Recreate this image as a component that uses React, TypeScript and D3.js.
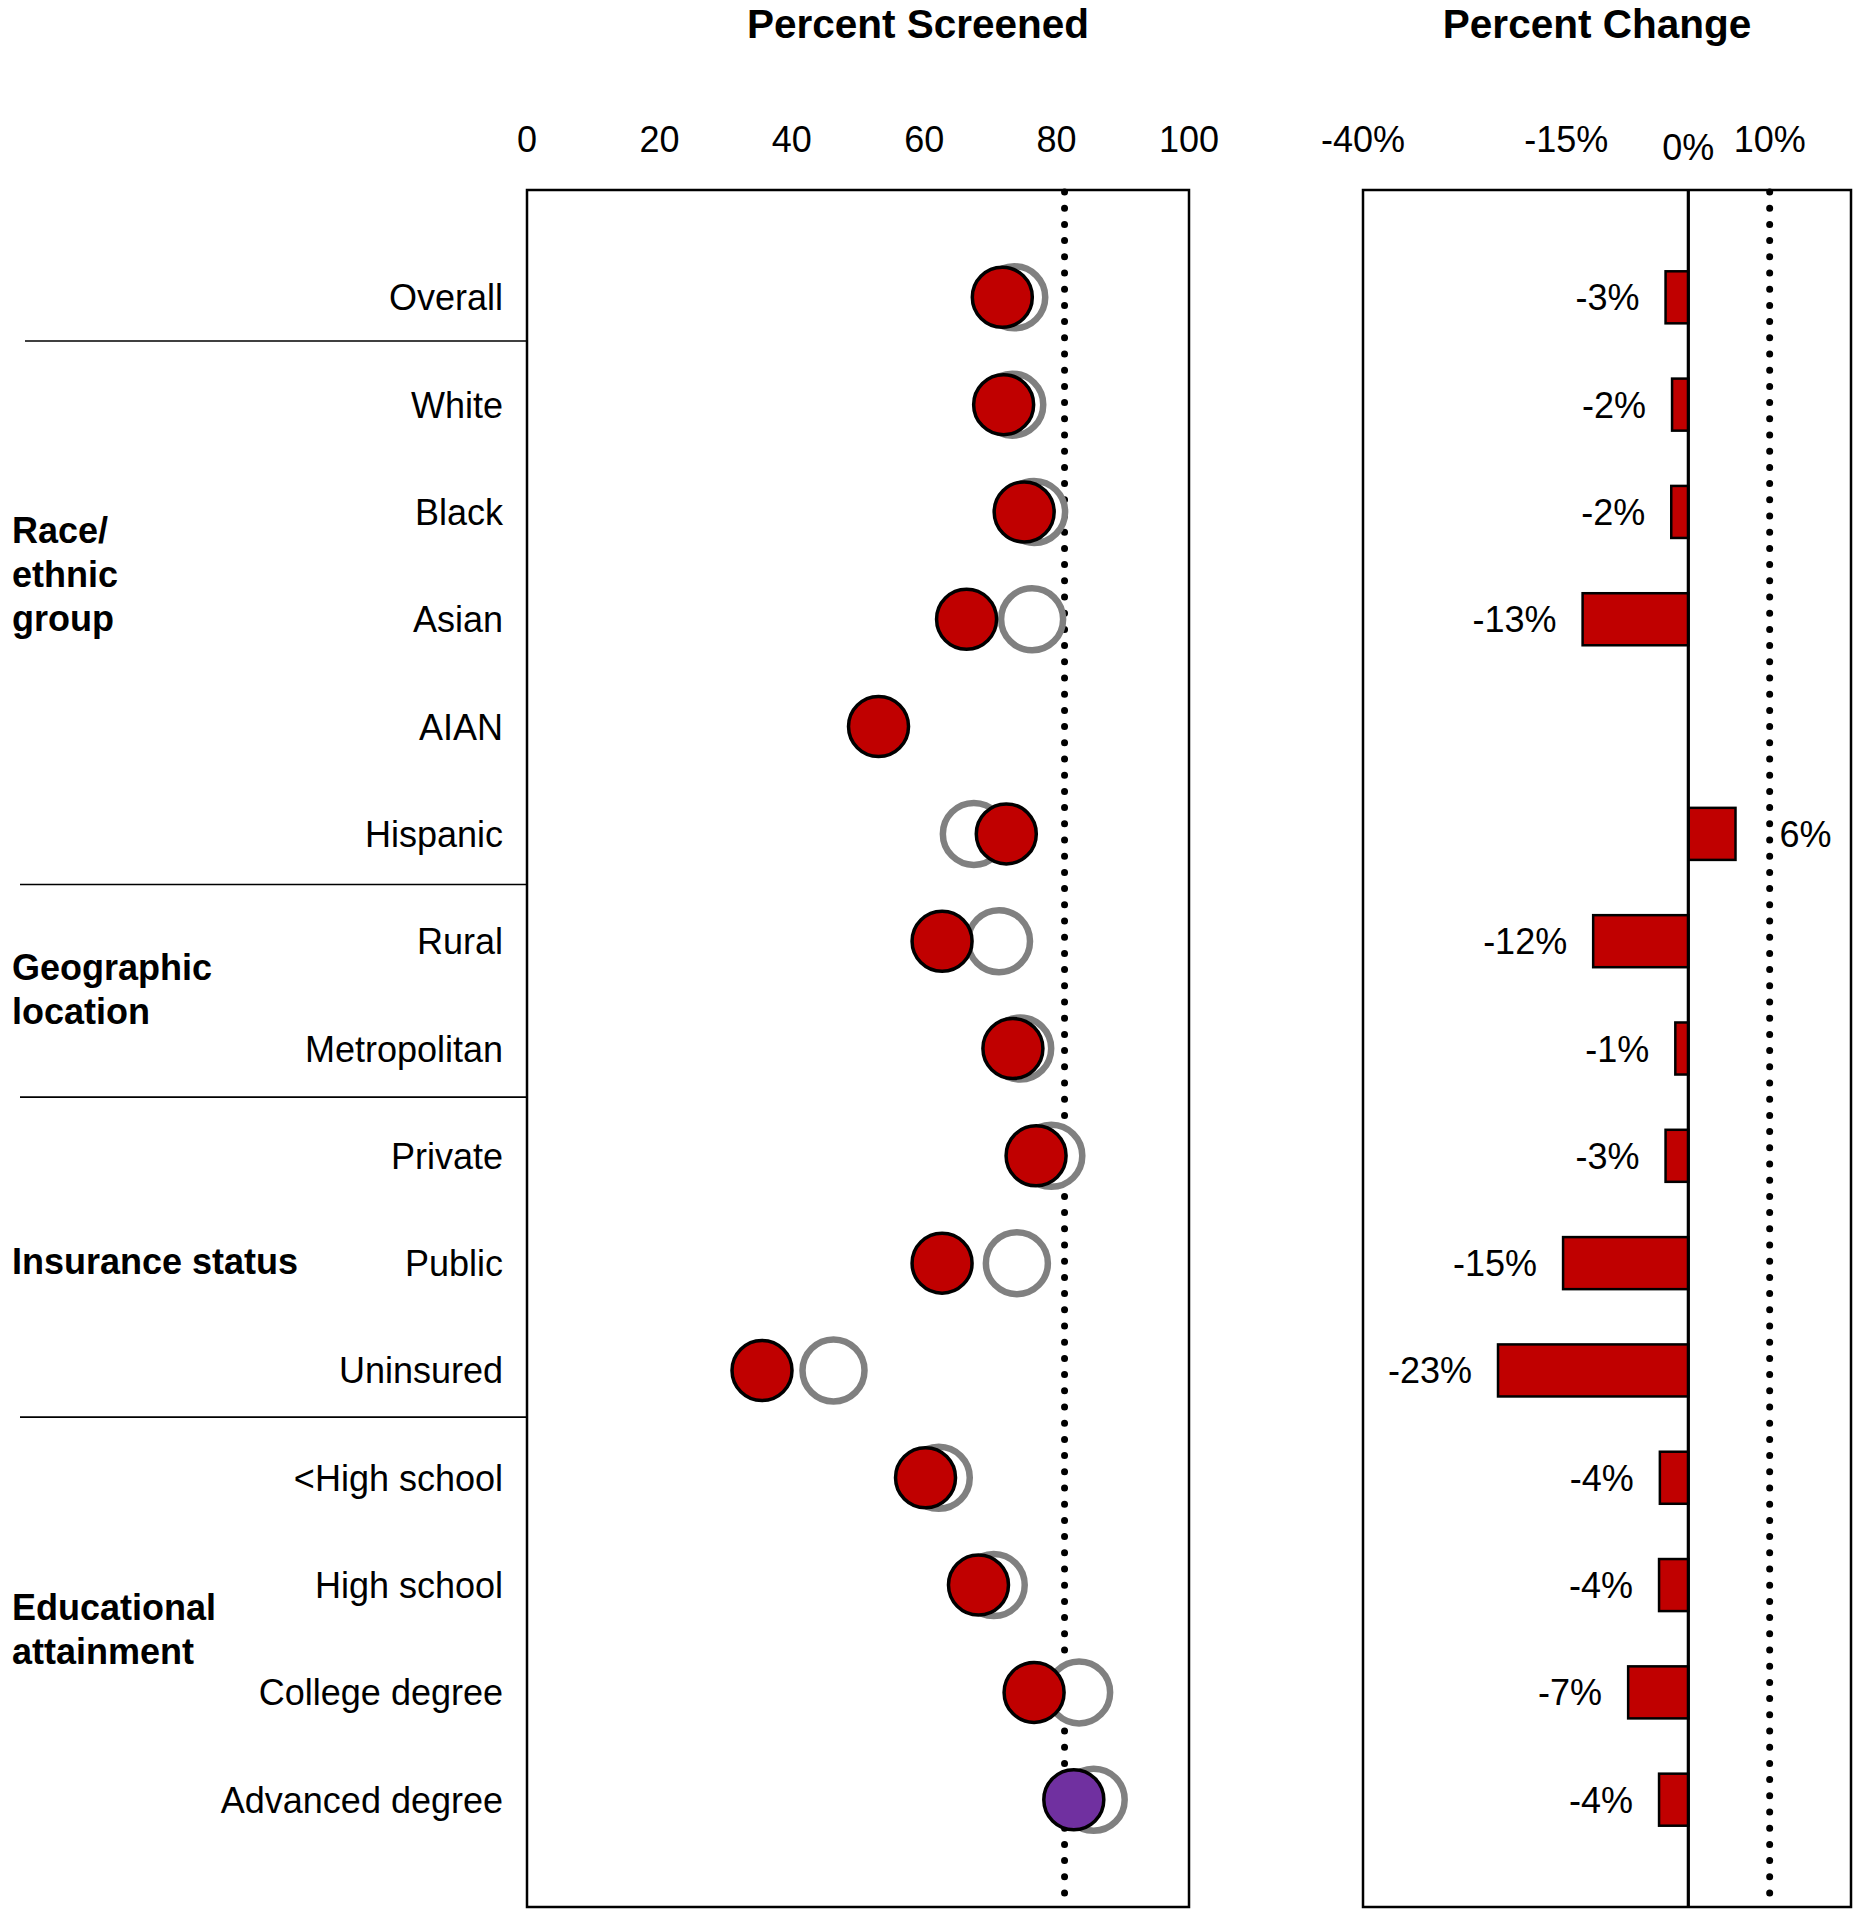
import React from "react";
import * as d3 from "d3";

const categories = [
  "Overall", "White", "Black", "Asian", "AIAN", "Hispanic", "Rural", "Metropolitan",
  "Private", "Public", "Uninsured", "<High school", "High school", "College degree", "Advanced degree",
];
// Filled markers (current period)
const currentPct = [71.8, 72.0, 75.1, 66.4, 53.1, 72.4, 62.7, 73.4, 76.9, 62.7, 35.5, 60.2, 68.2, 76.6, 82.6];
// Open markers (previous period)
const previousPct: (number | null)[] = [73.6, 73.3, 76.6, 76.3, null, 67.5, 71.3, 74.5, 79.2, 74.0, 46.3, 62.2, 70.5, 83.4, 85.6];
// Highlight (met target)
const metTarget = [false, false, false, false, false, false, false, false, false, false, false, false, false, false, true];
// Percent change bars
const changePct: (number | null)[] = [-2.8, -2.0, -2.1, -13.0, null, 5.8, -11.7, -1.6, -2.8, -15.4, -23.4, -3.5, -3.6, -7.4, -3.6];
const changeLabels = ["-3%", "-2%", "-2%", "-13%", "", "6%", "-12%", "-1%", "-3%", "-15%", "-23%", "-4%", "-4%", "-7%", "-4%"];

const screenedTicks = [0, 20, 40, 60, 80, 100];
const changeTicks = [-40, -15, 0, 10];
const changeTickLabels = ["-40%", "-15%", "0%", "10%"];
const screenedTarget = 81.2;
const changeTarget = 10;

const groupNames = [["Race/", "ethnic", "group"], ["Geographic", "location"], ["Insurance status"], ["Educational", "attainment"]];
const groupFrom = ["White", "Rural", "Private", "<High school"];
const groupTo = ["Hispanic", "Metropolitan", "Uninsured", "Advanced degree"];
const separatorsAfter = ["Overall", "Hispanic", "Metropolitan", "Uninsured"];

const FONT = "'Liberation Sans', Arial, Helvetica, sans-serif";
const RED = "#C00000";
const PURPLE = "#7030A0";
const GRAY = "#808080";

export default function App() {
  const top = 190;
  const bottom = 1907;
  const xL = d3.scaleLinear().domain([0, 100]).range([527, 1189]);
  const xR = d3.scaleLinear().domain([-40, 20]).range([1363, 1851]);
  const y = d3.scalePoint<string>().domain(categories).range([top, bottom]).padding(1);
  const step = y.step();
  const yy = (c: string) => y(c) as number;

  const groupDy = [-76, -15, 11, -19];
  const lineH = 44;
  const sepDy = [-10, -3, -5, -7];
  const sepX0 = [25, 20, 20, 20];

  const dotted = { stroke: "#000", strokeWidth: 7, strokeDasharray: "0 16.2", strokeLinecap: "round" as const };

  return (
    <svg width={1864} height={1920} style={{ position: "absolute", left: 0, top: 0, background: "#fff" }} fontFamily={FONT}>
      <rect x={0} y={0} width={1864} height={1920} fill="#fff" />
      {/* Titles */}
      <text x={918} y={38} textAnchor="middle" fontSize={40.5} fontWeight="bold">Percent Screened</text>
      <text x={1597} y={38} textAnchor="middle" fontSize={40.5} fontWeight="bold">Percent Change</text>

      {/* Axis tick labels */}
      {screenedTicks.map((t) => (
        <text key={"lt" + t} x={xL(t)} y={152} textAnchor="middle" fontSize={36}>{t}</text>
      ))}
      {changeTicks.map((t, i) => (
        <text key={"rt" + t} x={xR(t)} y={t === 0 ? 160 : 152} textAnchor="middle" fontSize={36}>{changeTickLabels[i]}</text>
      ))}

      {/* Category labels */}
      {categories.map((c) => (
        <text key={"c" + c} x={503} y={yy(c) + 13} textAnchor="end" fontSize={36}>{c}</text>
      ))}

      {/* Group labels */}
      {groupNames.map((lines, gi) => {
        const mid = (yy(groupFrom[gi]) + yy(groupTo[gi])) / 2 + groupDy[gi];
        return lines.map((ln, li) => (
          <text key={"g" + gi + li} x={12} y={mid + li * lineH} fontSize={36} fontWeight="bold">{ln}</text>
        ));
      })}

      {/* Separators */}
      {separatorsAfter.map((c, si) => {
        const i = categories.indexOf(c);
        const sy = (yy(categories[i]) + yy(categories[i + 1])) / 2 + sepDy[si];
        return <line key={"s" + c} x1={sepX0[si]} x2={xL(0)} y1={sy} y2={sy} stroke="#000" strokeWidth={1.6} />;
      })}

      {/* Left panel box */}
      <rect x={xL(0)} y={top} width={xL(100) - xL(0)} height={bottom - top} fill="none" stroke="#000" strokeWidth={2.5} />
      <line x1={xL(screenedTarget)} x2={xL(screenedTarget)} y1={top + 2} y2={bottom - 4} {...dotted} />

      {/* Previous (open) circles */}
      {categories.map((c, i) =>
        previousPct[i] == null ? null : (
          <circle key={"p" + c} cx={xL(previousPct[i] as number)} cy={yy(c)} r={31} fill="#fff" stroke={GRAY} strokeWidth={6.5} />
        )
      )}
      {/* Current (filled) circles */}
      {categories.map((c, i) => (
        <circle key={"f" + c} cx={xL(currentPct[i])} cy={yy(c)} r={30} fill={metTarget[i] ? PURPLE : RED} stroke="#000" strokeWidth={3.5} />
      ))}

      {/* Right panel box */}
      <rect x={xR(-40)} y={top} width={xR(20) - xR(-40)} height={bottom - top} fill="none" stroke="#000" strokeWidth={2.5} />
      <line x1={xR(changeTarget)} x2={xR(changeTarget)} y1={top + 2} y2={bottom - 4} {...dotted} />

      {/* Bars */}
      {categories.map((c, i) => {
        const v = changePct[i];
        if (v == null) return null;
        const x0 = xR(Math.min(0, v));
        const x1 = xR(Math.max(0, v));
        const h = step * 0.485;
        return (
          <g key={"b" + c}>
            <rect x={x0} y={yy(c) - h / 2} width={x1 - x0} height={h} fill={RED} stroke="#000" strokeWidth={2.5} />
            <text
              x={v < 0 ? x0 - 26 : x1 + 44}
              y={yy(c) + 13}
              textAnchor={v < 0 ? "end" : "start"}
              fontSize={36}
            >
              {changeLabels[i]}
            </text>
          </g>
        );
      })}
      <line x1={xR(0)} x2={xR(0)} y1={top} y2={bottom} stroke="#000" strokeWidth={3.2} />
    </svg>
  );
}
